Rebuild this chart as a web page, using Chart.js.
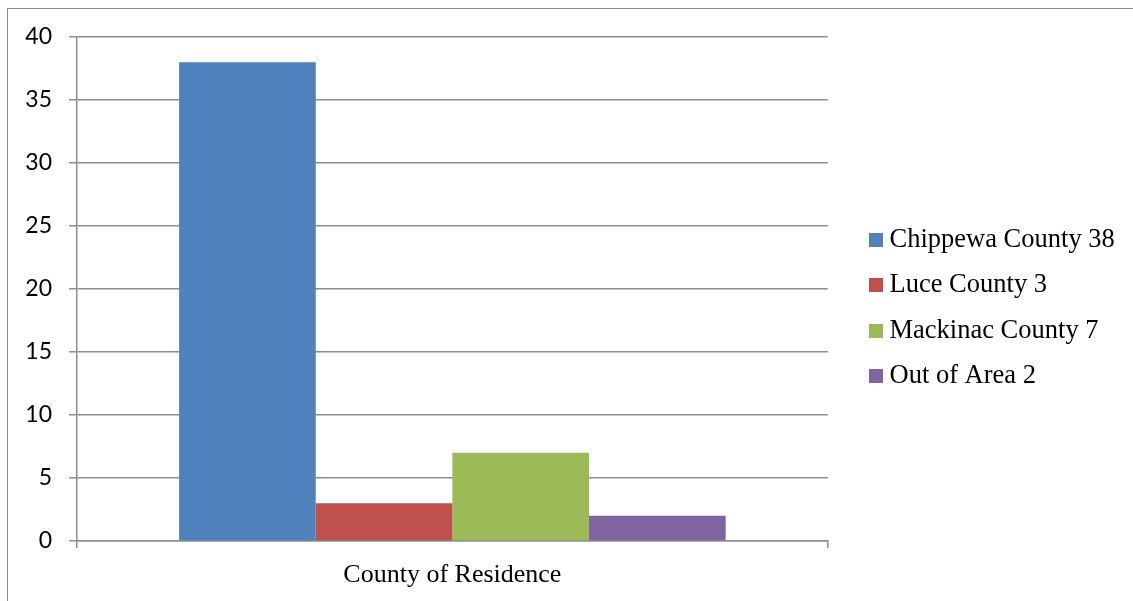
<!DOCTYPE html>
<html>
<head>
  <title>County of Residence</title>
  <script src="https://cdn.jsdelivr.net/npm/chart.js"></script>
  <style>
    body { margin: 0; overflow: hidden; background: #fff; }
    #wrap { position: relative; width: 1133px; height: 601px; }
    #frame {
      position: absolute; left: 7px; top: 8px; width: 1300px; height: 800px;
      border: 1.5px solid #8a8a8a; pointer-events: none;
    }
  </style>
</head>
<body>
  <div id="wrap">
    <canvas id="countyChart" width="1133" height="601"></canvas>
    <div id="frame"></div>
  </div>
  <script>
    // values
    const categories = ['County of Residence'];
    const seriesNames = ['Chippewa County 38', 'Luce County 3', 'Mackinac County 7', 'Out of Area 2'];
    const seriesValues = [38, 3, 7, 2];
    const seriesColors = ['#4F81BD', '#C0504D', '#9BBB59', '#8064A2'];
    const yTicks = [0, 5, 10, 15, 20, 25, 30, 35, 40];

    const gridColor = '#8e8e8e';
    const serif = '"Liberation Serif", "Times New Roman", serif';

    // small square used as legend marker, so the gap to the text stays tight
    function makeSwatch(color) {
      const c = document.createElement('canvas');
      c.width = 14;
      c.height = 14;
      const g = c.getContext('2d');
      g.fillStyle = color;
      g.fillRect(0, 0, 14, 14);
      return c;
    }
    const swatches = seriesColors.map(makeSwatch);

    const datasets = seriesNames.map((name, i) => ({
      label: name,
      data: [seriesValues[i]],
      backgroundColor: seriesColors[i],
      borderWidth: 0,
      yAxisID: 'y'
    }));

    const ctx = document.getElementById('countyChart').getContext('2d');
    new Chart(ctx, {
      type: 'bar',
      data: {
        labels: categories,
        datasets: datasets
      },
      options: {
        responsive: false,
        animation: false,
        devicePixelRatio: 1,
        barPercentage: 1,
        categoryPercentage: 0.728,
        layout: {
          padding: { top: 37, bottom: 11, left: 8, right: 8.25 }
        },
        plugins: {
          tooltip: { enabled: false },
          legend: {
            position: 'right',
            align: 'center',
            fullSize: false,
            maxWidth: 320,
            // empty title only pushes the items down a bit
            title: {
              display: true,
              text: '',
              padding: 0,
              font: { size: 38, lineHeight: 1 }
            },
            labels: {
              color: '#000',
              font: { family: serif, size: 26.5 },
              usePointStyle: true,
              boxWidth: 0.01,
              padding: 19,
              generateLabels: function (chart) {
                const items = Chart.defaults.plugins.legend.labels.generateLabels(chart);
                items.forEach((item, i) => { item.pointStyle = swatches[i]; });
                return items;
              }
            }
          }
        },
        scales: {
          x: {
            offset: true,
            grid: {
              display: true,
              offset: true,
              drawOnChartArea: false,
              color: gridColor,
              lineWidth: 1.5,
              tickLength: 7
            },
            border: { color: gridColor, width: 1.5 },
            ticks: {
              color: '#000',
              padding: 12,
              font: { family: serif, size: 26 }
            },
            afterFit: function (scale) { scale.height = 49; }
          },
          y: {
            min: 0,
            max: 40,
            afterBuildTicks: function (scale) {
              scale.ticks = yTicks.map(v => ({ value: v }));
            },
            grid: {
              color: gridColor,
              lineWidth: 1.5,
              tickLength: 8
            },
            border: { color: gridColor, width: 1.5 },
            ticks: {
              color: '#000',
              padding: 17,
              font: { family: 'Lato, "Open Sans", sans-serif', size: 23 }
            },
            afterFit: function (scale) { scale.width = 69; }
          },
          yGap: {
            type: 'linear',
            position: 'right',
            display: true,
            grid: { display: false },
            border: { display: false },
            ticks: { display: false },
            afterFit: function (scale) { scale.width = 29.5; }
          }
        }
      }
    });
  </script>
</body>
</html>
